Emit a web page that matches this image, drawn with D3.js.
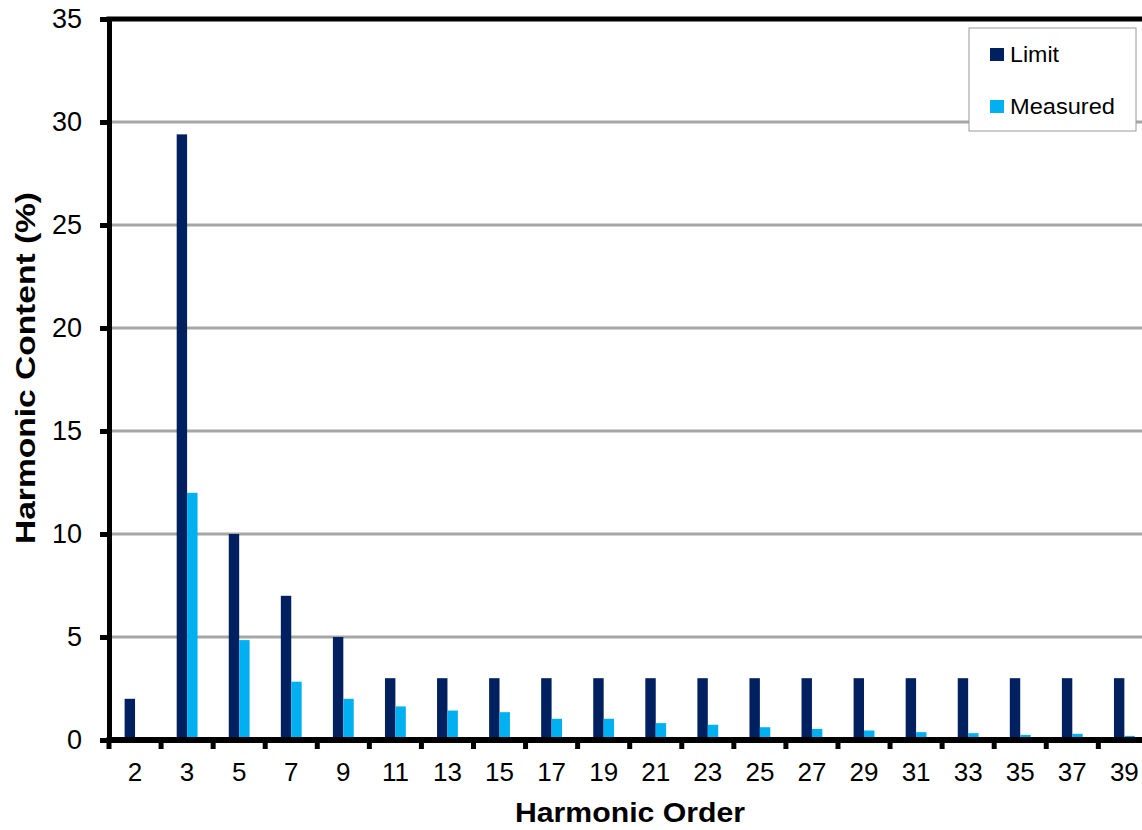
<!DOCTYPE html>
<html>
<head>
<meta charset="utf-8">
<script src="https://cdn.jsdelivr.net/npm/d3@7"></script>
<style>
  body { margin: 0; background: #fff; }
  text { font-family: "Liberation Sans", Arial, sans-serif; }
</style>
</head>
<body>
<div id="chart-area"></div>
<script>
// harmonic order categories and the two series (values in %)
var orders = ["2", "3", "5", "7", "9", "11", "13", "15", "17", "19", "21", "23", "25", "27", "29", "31", "33", "35", "37", "39"];
var limitVals = [2, 29.4, 10, 7, 5, 3, 3, 3, 3, 3, 3, 3, 3, 3, 3, 3, 3, 3, 3, 3];
var measuredVals = [0.12, 12, 4.85, 2.83, 2.0, 1.63, 1.43, 1.35, 1.03, 1.03, 0.82, 0.74, 0.62, 0.54, 0.46, 0.38, 0.33, 0.25, 0.3, 0.2];
var seriesNames = ["Limit", "Measured"];
var seriesColors = ["#002060", "#00B0F0"];
var legendWidths = [49, 105];
var yTicks = [0, 5, 10, 15, 20, 25, 30, 35];

var W = 1142, H = 830;
var plotLeft = 109, plotTop = 19, plotBottom = 740, plotRight = 1150.4;

var data = orders.map((o, i) => {
    return {order: o, values: [limitVals[i], measuredVals[i]]};
});

var svg = d3.select("#chart-area").append("svg")
            .attr("width", W)
            .attr("height", H);

const x = d3.scaleBand().domain(orders).range([plotLeft, plotRight]).padding(0);
const groupW = x.step() / 2.5;
const x1 = d3.scaleBand().domain(seriesNames)
             .range([(x.step() - groupW) / 2, (x.step() + groupW) / 2]);
const y = d3.scaleLinear().domain([0, 35]).range([plotBottom, plotTop]);
const color = d3.scaleOrdinal().domain(seriesNames).range(seriesColors);

// gridlines
svg.append("g").selectAll("line").data(yTicks.filter(t => t > 0 && t < 35)).enter()
    .append("line")
    .attr("x1", plotLeft + 2).attr("x2", W)
    .attr("y1", d => y(d)).attr("y2", d => y(d))
    .attr("stroke", "#a6a6a6").attr("stroke-width", 3);

// top border
svg.append("line")
    .attr("x1", plotLeft - 2.5).attr("x2", W)
    .attr("y1", y(35)).attr("y2", y(35))
    .attr("stroke", "#000").attr("stroke-width", 5);

// bars
var groups = svg.append("g").selectAll("g").data(data).enter()
    .append("g")
    .attr("transform", d => "translate(" + x(d.order) + ",0)");

groups.selectAll("rect")
    .data(d => d.values.map((v, i) => ({name: seriesNames[i], value: v})))
    .enter().append("rect")
    .attr("x", d => x1(d.name))
    .attr("y", d => y(d.value))
    .attr("width", x1.bandwidth())
    .attr("height", d => y(0) - y(d.value))
    .attr("fill", d => color(d.name));

// y axis
var yAxis = svg.append("g")
    .attr("transform", "translate(" + plotLeft + ",0)")
    .call(d3.axisLeft(y).tickValues(yTicks).tickSize(9).tickSizeOuter(0).tickPadding(18));
yAxis.select(".domain").attr("stroke", "#000").attr("stroke-width", 5);
yAxis.selectAll(".tick line").attr("stroke", "#000").attr("stroke-width", 5);
yAxis.selectAll(".tick text").attr("font-size", 27).attr("fill", "#000")
    .style("font-family", "'Liberation Sans', Arial, sans-serif");

// x axis baseline
svg.append("line")
    .attr("x1", plotLeft - 2.5).attr("x2", W)
    .attr("y1", y(0)).attr("y2", y(0))
    .attr("stroke", "#000").attr("stroke-width", 6);

// x tick marks at category boundaries
var bounds = orders.map(o => x(o)).concat([x(orders[orders.length - 1]) + x.step()]);
svg.append("g").selectAll("line").data(bounds).enter()
    .append("line")
    .attr("x1", d => d).attr("x2", d => d)
    .attr("y1", y(0)).attr("y2", y(0) + 9)
    .attr("stroke", "#000").attr("stroke-width", 5);

// x labels
var xAxis = svg.append("g")
    .attr("transform", "translate(0," + plotBottom + ")")
    .call(d3.axisBottom(x).tickSize(0).tickPadding(23));
xAxis.select(".domain").remove();
xAxis.selectAll(".tick text").attr("font-size", 26).attr("fill", "#000")
    .style("font-family", "'Liberation Sans', Arial, sans-serif");

// axis titles
svg.append("text")
    .attr("x", 630).attr("y", 822)
    .attr("text-anchor", "middle")
    .attr("font-size", 27).attr("font-weight", "bold")
    .attr("textLength", 230).attr("lengthAdjust", "spacingAndGlyphs")
    .text("Harmonic Order");

svg.append("text")
    .attr("transform", "translate(35,368) rotate(-90)")
    .attr("text-anchor", "middle")
    .attr("font-size", 28).attr("font-weight", "bold")
    .attr("textLength", 352).attr("lengthAdjust", "spacingAndGlyphs")
    .text("Harmonic Content (%)");

// legend
var legend = svg.append("g").attr("transform", "translate(969,28)");
legend.append("rect")
    .attr("width", 167).attr("height", 103)
    .attr("fill", "#fff").attr("stroke", "#999").attr("stroke-width", 1);
var items = legend.selectAll("g.item").data(seriesNames).enter()
    .append("g").attr("class", "item")
    .attr("transform", (d, i) => "translate(21," + (20 + i * 52) + ")");
items.append("rect")
    .attr("width", 14).attr("height", 13)
    .attr("fill", d => color(d));
items.append("text")
    .attr("x", 20).attr("y", 14)
    .attr("font-size", 22)
    .attr("textLength", (d, i) => legendWidths[i]).attr("lengthAdjust", "spacingAndGlyphs")
    .text(d => d);
</script>
</body>
</html>
